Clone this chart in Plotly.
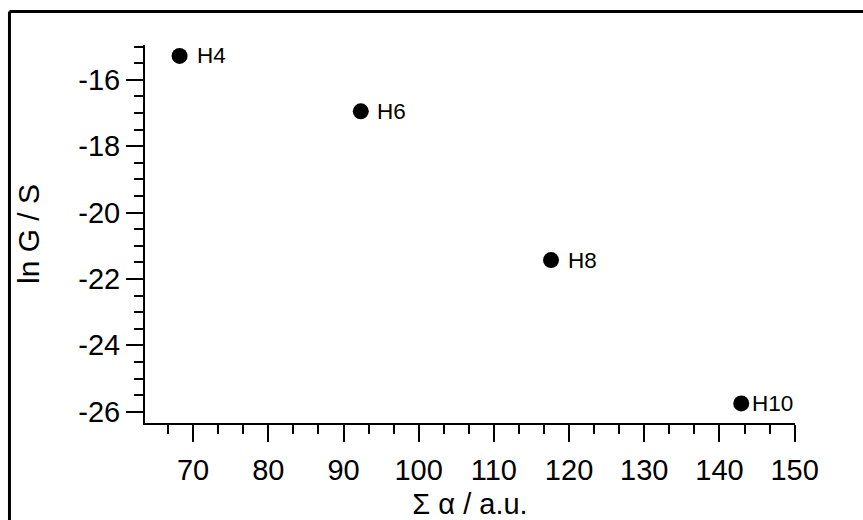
import plotly.graph_objects as go

# Sum of polarisabilities vs. log conductance for the H-series
names = ["H4", "H6", "H8", "H10"]
sum_alpha = [68.2, 92.3, 117.6, 142.9]
ln_g = [-15.28, -16.95, -21.43, -25.75]

x_ticks = [70, 80, 90, 100, 110, 120, 130, 140, 150]
y_ticks = [-16, -18, -20, -22, -24, -26]
y_tick_text = ["-16", "-18", "-20", "-22", "-24", "-26"]

label_shift = [16, 15, 16, 10]

FONT = "Liberation Sans, Arial, Helvetica, sans-serif"

fig = go.Figure()
fig.add_trace(go.Scatter(
    x=sum_alpha, y=ln_g, mode="markers",
    marker=dict(size=16, color="black"),
    showlegend=False, hoverinfo="skip",
))

for name, xv, yv, dx in zip(names, sum_alpha, ln_g, label_shift):
    fig.add_annotation(
        x=xv, y=yv, text=name, showarrow=False,
        xanchor="left", yanchor="middle", xshift=dx - 1,
        font=dict(family=FONT, size=22.5, color="black"),
    )

axis_common = dict(
    showline=True, linecolor="black", linewidth=2,
    showgrid=False, zeroline=False, automargin=False,
    ticks="outside", tickcolor="black", tickwidth=2, ticklen=17,
    tickfont=dict(family=FONT, size=29, color="black"),
    mirror=False,
)

fig.update_xaxes(
    range=[63.6, 150.05],
    tickvals=x_ticks,
    ticklabelstandoff=3,
    minor=dict(ticks="outside", ticklen=9, tickwidth=2, tickcolor="black",
               dtick=10 / 3, tick0=70, showgrid=False),
    title=dict(text="Σ α / a.u.", font=dict(family=FONT, size=29, color="black"),
               standoff=10),
    **axis_common,
)
fig.update_yaxes(
    range=[-26.34, -14.95],
    tickvals=y_ticks, ticktext=y_tick_text,
    minor=dict(ticks="outside", ticklen=9, tickwidth=2, tickcolor="black",
               dtick=0.5, tick0=-16, showgrid=False),
    title=dict(text="ln G / S", font=dict(family=FONT, size=30, color="black"),
               standoff=30),
    **axis_common,
)

# Outer frame: top and left edges
frame = dict(type="line", xref="paper", yref="paper",
             line=dict(color="black", width=3), layer="above")
fig.add_shape(x0=-0.2085, x1=1.3, y0=1.0886, y1=1.0886, **frame)
fig.add_shape(x0=-0.2085, x1=-0.2085, y0=1.0886, y1=-0.4, **frame)

fig.update_layout(
    width=863, height=520,
    margin=dict(l=145, r=68, t=45, b=97),
    paper_bgcolor="white", plot_bgcolor="white",
    font=dict(family=FONT, color="black"),
)

fig.write_html("out.html")
